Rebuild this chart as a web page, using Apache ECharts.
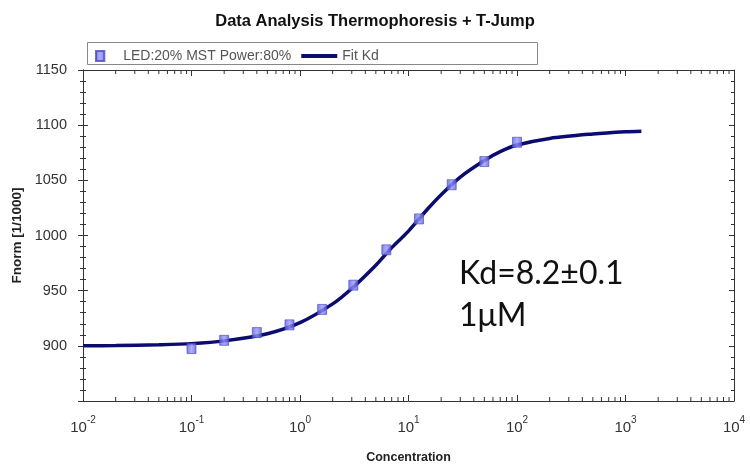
<!DOCTYPE html>
<html>
<head>
<meta charset="utf-8">
<script src="https://cdn.jsdelivr.net/npm/echarts@6/dist/echarts.min.js"></script>
<style>html,body{margin:0;padding:0;background:#fff}#c{width:750px;height:469px}</style>
</head>
<body>
<div id="c"></div>
<script>
// ---- data ----
const titleText = 'Data Analysis Thermophoresis + T-Jump';
const pointName = 'LED:20% MST Power:80%';
const fitName = 'Fit Kd';
const concentrations = [0.1, 0.2, 0.4, 0.8, 1.6, 3.1, 6.25, 12.5, 25, 50, 100];
const fnormPoints = [897.5, 905, 912, 919, 933, 955, 987, 1015, 1046, 1067, 1084.5];
const fitConc = [0.01, 0.02, 0.05, 0.1, 0.2, 0.5, 1, 2, 3, 5, 7, 10, 15, 20, 30, 50, 70, 100, 200, 500, 1000, 1400];
const fitValues = [900, 900.3, 901, 902, 904.5, 911, 921, 938, 952, 973, 989, 1004, 1024, 1037, 1053, 1068, 1076, 1082, 1088, 1092, 1094, 1094.5];
const xMin = 0.01, xMax = 10000;
const yMin = 850, yMax = 1150, yStep = 50;
const yLabelMin = 900;
const annotation = ['Kd=8.2±0.1', '1μM'];

// minor tick positions of the log axis (axis decoration)
const minorTicks = [];
for (let e = -2; e < 4; e++) for (let k = 2; k <= 9; k++) minorTicks.push([k * Math.pow(10, e), yMin]);

const chart = echarts.init(document.getElementById('c'));
const axisColor = '#333';
const sans = 'Liberation Sans, Arial, sans-serif';

function yAxisBase(extra) {
  return Object.assign({
    type: 'value', min: yMin, max: yMax, interval: yStep,
    splitLine: {show: false},
    axisLine: {show: true, lineStyle: {color: axisColor, width: 1}},
    axisTick: {show: true, length: 5, lineStyle: {color: axisColor}},
    minorTick: {show: true, splitNumber: 5, length: 3, lineStyle: {color: axisColor}},
    axisLabel: {show: false}
  }, extra);
}

chart.setOption({
  animation: false,
  backgroundColor: '#fff',
  title: {
    text: titleText, left: 'center', top: 8,
    textStyle: {fontFamily: sans, fontWeight: 'bold', fontSize: 16.5, color: '#111'}
  },
  legend: {
    left: 90, top: 44, itemGap: 10, itemWidth: 36, itemHeight: 10,
    symbolKeepAspect: true,
    textStyle: {fontFamily: sans, fontSize: 14, color: '#555'},
    data: [
      {name: pointName, icon: 'path://M0,0h10v12h-10z'},
      {name: fitName, icon: 'path://M0,0h36v4h-36z'}
    ]
  },
  graphic: [
    {type: 'rect', left: 85, top: 40, shape: {width: 450, height: 22}, style: {fill: 'none', stroke: '#888', lineWidth: 1}, z: -1},
    {type: 'text', left: 459, top: 253, style: {text: annotation.join('\n'), fontFamily: 'Lato, Open Sans, sans-serif', fontSize: 32, lineHeight: 42, fill: '#111'}}
  ],
  grid: {left: 83, right: 16, top: 70, bottom: 67},
  xAxis: [
    {
      type: 'log', logBase: 10, min: xMin, max: xMax, position: 'bottom',
      splitLine: {show: false},
      axisLine: {show: true, lineStyle: {color: axisColor}},
      axisTick: {show: true, inside: true, length: 6, lineStyle: {color: axisColor}},
      axisLabel: {
        margin: 14, color: '#333',
        formatter: v => '{b|10}{s|' + Math.round(Math.log10(v)) + '}',
        rich: {
          b: {fontFamily: sans, fontSize: 15, color: '#333', lineHeight: 20, verticalAlign: 'bottom'},
          s: {fontFamily: sans, fontSize: 10, color: '#333', lineHeight: 12, verticalAlign: 'top'}
        }
      },
      name: 'Concentration', nameLocation: 'middle', nameGap: 50,
      nameTextStyle: {fontFamily: sans, fontWeight: 'bold', fontSize: 12.5, color: '#222'}
    },
    {
      type: 'log', logBase: 10, min: xMin, max: xMax, position: 'top',
      splitLine: {show: false},
      axisLine: {show: true, lineStyle: {color: axisColor}},
      axisTick: {show: true, inside: true, length: 6, lineStyle: {color: axisColor}},
      axisLabel: {show: false}
    }
  ],
  yAxis: [
    yAxisBase({
      position: 'left',
      axisTick: {show: true, length: 5, lineStyle: {color: axisColor}},
      axisLabel: {show: true, margin: 16, fontFamily: sans, fontSize: 14.5, color: '#333',
        formatter: v => (v < yLabelMin ? '' : String(v))},
      name: 'Fnorm [1/1000]', nameLocation: 'middle', nameGap: 58,
      nameTextStyle: {fontFamily: sans, fontWeight: 'bold', fontSize: 13.5, color: '#222'}
    }),
    yAxisBase({position: 'left', axisTick: {show: true, inside: true, length: 5, lineStyle: {color: axisColor}}}),
    yAxisBase({position: 'right', axisTick: {show: true, inside: true, length: 5, lineStyle: {color: axisColor}}})
  ],
  series: [
    {
      name: fitName, type: 'line', xAxisIndex: 0, yAxisIndex: 0,
      data: fitConc.map((c, i) => [c, fitValues[i]]),
      smooth: 0.3, showSymbol: false, symbol: 'none',
      lineStyle: {color: '#0c0c6e', width: 3.5}, itemStyle: {color: '#0c0c6e'}, z: 2
    },
    {
      name: pointName, type: 'scatter', xAxisIndex: 0, yAxisIndex: 0,
      data: concentrations.map((c, i) => [c, fnormPoints[i]]),
      symbol: 'rect', symbolSize: [9, 10],
      itemStyle: {
        color: new echarts.graphic.LinearGradient(0, 0, 1, 0, [{offset: 0, color: '#5a5ae0'}, {offset: 0.5, color: '#9a9af8'}, {offset: 1, color: '#5a5ae0'}]),
        borderColor: '#4848c0', borderWidth: 0.8
      }, z: 3
    },
    {
      type: 'custom', xAxisIndex: 0, yAxisIndex: 0, silent: true, clip: false, z: 1,
      data: minorTicks,
      renderItem: (params, api) => {
        const b = api.coord([api.value(0), yMin]);
        const t = api.coord([api.value(0), yMax]);
        return {type: 'group', children: [
          {type: 'line', shape: {x1: b[0], y1: b[1], x2: b[0], y2: b[1] - 4}, style: {stroke: axisColor, lineWidth: 1}},
          {type: 'line', shape: {x1: t[0], y1: t[1], x2: t[0], y2: t[1] + 4}, style: {stroke: axisColor, lineWidth: 1}}
        ]};
      }
    }
  ]
});
</script>
</body>
</html>
